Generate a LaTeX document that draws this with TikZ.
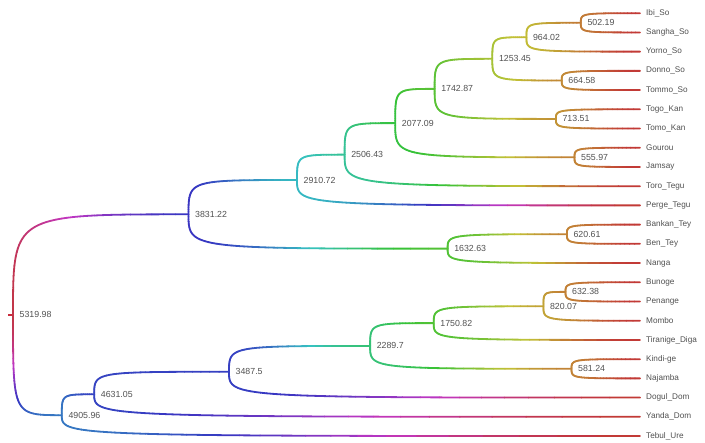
\documentclass[tikz,border=0pt]{standalone}
\usepackage{fontspec}
\setmainfont{Liberation Sans}
\definecolor{labgray}{RGB}{80,80,80}
\newcommand\dgN{40}
\newcommand\dedge[4]{%
  \pgfpointanchor{#1}{center}\pgfgetlastxy{\dgXp}{\dgYp}%
  \pgfpointanchor{#2}{center}\pgfgetlastxy{\dgXc}{\dgYc}%
  \pgfmathsetmacro\dgDx{\dgXc-\dgXp}%
  \pgfmathsetmacro\dgDy{\dgYc-\dgYp}%
  \pgfmathsetmacro\dgA{(\dgDx/100)^2}%
  \pgfmathsetmacro\dgB{(\dgDy/100)^2}%
  \pgfmathsetmacro\dgH{#4-#3}%
  \pgfmathsetmacro\dgH{\dgH>180 ? \dgH-360 : (\dgH<-180 ? \dgH+360 : \dgH)}%
  \foreach \dgk in {1,...,\dgN}{%
    \pgfmathsetmacro\dgTa{(\dgk-1)/\dgN}%
    \pgfmathsetmacro\dgTb{\dgk/\dgN}%
    \pgfmathsetmacro\dgTm{(\dgk-0.5)/\dgN}%
    \pgfmathsetmacro\dgUa{1-\dgTa}%
    \pgfmathsetmacro\dgUb{1-\dgTb}%
    \pgfmathsetmacro\dgUm{1-\dgTm}%
    \pgfmathsetmacro\dgXa{\dgXp+\dgDx*\dgTa*\dgTa*\dgTa}%
    \pgfmathsetmacro\dgYa{\dgYp+\dgDy*(1-\dgUa*\dgUa*\dgUa)}%
    \pgfmathsetmacro\dgXb{\dgXp+\dgDx*\dgTb*\dgTb*\dgTb}%
    \pgfmathsetmacro\dgYb{\dgYp+\dgDy*(1-\dgUb*\dgUb*\dgUb)}%
    \pgfmathsetmacro\dgS{(\dgA*\dgTm*\dgTm*\dgTm+\dgB*(1-\dgUm*\dgUm*\dgUm))/(\dgA+\dgB)}%
    \pgfmathsetmacro\dgS{\dgS*\dgS*(3-2*\dgS)}%
    \pgfmathsetmacro\dgHue{mod(#3+\dgS*\dgH+720,360)}%
    \pgfmathsetmacro\dgHue{(\dgHue>358.5 || \dgHue<1.5) ? 1.5 : \dgHue}%
    \definecolor{segc}{Hsb}{\dgHue,0.72,0.76}%
    \draw[edgeline,segc] (\dgXa pt,\dgYa pt) -- (\dgXb pt,\dgYb pt);%
  }%
}
\tikzset{
  edgeline/.style={line width=1.8pt,line cap=round},
  leaflab/.style={anchor=west,inner sep=0pt,xshift=6pt,text=labgray,font=\fontsize{8.2}{9}\selectfont},
  intlab/.style={anchor=west,inner sep=0pt,xshift=6.5pt,text=labgray,font=\fontsize{8.8}{10}\selectfont},
}
\begin{document}
\begin{tikzpicture}[x=1pt,y=-1pt]
\useasboundingbox (0,0) rectangle (705,443);
% leaves
\coordinate (Ibi) at (640,13.2);
\coordinate (Sangha) at (640,32.42);
\coordinate (Yorno) at (640,51.64);
\coordinate (Donno) at (640,70.86);
\coordinate (Tommo) at (640,90.08);
\coordinate (Togo) at (640,109.3);
\coordinate (Tomo) at (640,128.52);
\coordinate (Gourou) at (640,147.74);
\coordinate (Jamsay) at (640,166.96);
\coordinate (Toro) at (640,186.18);
\coordinate (Perge) at (640,205.4);
\coordinate (Bankan) at (640,224.62);
\coordinate (Ben) at (640,243.84);
\coordinate (Nanga) at (640,263.06);
\coordinate (Bunoge) at (640,282.28);
\coordinate (Penange) at (640,301.5);
\coordinate (Mombo) at (640,320.72);
\coordinate (Tiranige) at (640,339.94);
\coordinate (Kindi) at (640,359.16);
\coordinate (Najamba) at (640,378.38);
\coordinate (Dogul) at (640,397.6);
\coordinate (Yanda) at (640,416.82);
\coordinate (Tebul) at (640,436.04);
% internal nodes
\coordinate (n502) at (580.8,22.81);
\coordinate (n964) at (526.4,37.23);
\coordinate (n664) at (561.7,80.47);
\coordinate (n1253) at (492.3,58.85);
\coordinate (n713) at (555.9,118.91);
\coordinate (n1742) at (434.6,88.88);
\coordinate (n555) at (574.5,157.35);
\coordinate (n2077) at (395.2,123.11);
\coordinate (n2506) at (344.6,154.65);
\coordinate (n2910) at (297.0,180.02);
\coordinate (n620) at (566.9,234.23);
\coordinate (n1632) at (447.6,248.65);
\coordinate (n3831) at (188.5,214.33);
\coordinate (n632) at (565.5,291.89);
\coordinate (n820) at (543.4,306.31);
\coordinate (n1750) at (433.7,323.12);
\coordinate (n581) at (571.5,368.77);
\coordinate (n2289) at (370.1,345.95);
\coordinate (n3487) at (229.0,371.77);
\coordinate (n4631) at (94.2,394.30);
\coordinate (n4905) at (61.8,415.17);
\coordinate (root) at (13.0,314.75);
\coordinate (rootstub) at (8.0,314.75);
% edges
\draw[edgeline,line cap=butt,color={rgb,255:red,200;green,45;blue,60}] (rootstub) -- (root);
\dedge{root}{n3831}{352}{242}
\dedge{root}{n4905}{352}{212}
\dedge{n3831}{n2910}{242}{184}
\dedge{n3831}{n1632}{242}{108}
\dedge{n2910}{n2506}{184}{162}
\dedge{n2910}{Perge}{184}{0}
\dedge{n2506}{n2077}{162}{125}
\dedge{n2506}{Toro}{162}{0}
\dedge{n2077}{n1742}{125}{105}
\dedge{n2077}{n555}{125}{33}
\dedge{n1742}{n1253}{105}{72}
\dedge{n1742}{n713}{105}{40}
\dedge{n1253}{n964}{72}{57}
\dedge{n1253}{n664}{72}{36}
\dedge{n964}{n502}{57}{30}
\dedge{n964}{Yorno}{57}{0}
\dedge{n502}{Ibi}{30}{0}
\dedge{n502}{Sangha}{30}{0}
\dedge{n664}{Donno}{36}{0}
\dedge{n664}{Tommo}{36}{0}
\dedge{n713}{Togo}{40}{0}
\dedge{n713}{Tomo}{40}{0}
\dedge{n555}{Gourou}{33}{0}
\dedge{n555}{Jamsay}{33}{0}
\dedge{n1632}{n620}{108}{33}
\dedge{n1632}{Nanga}{108}{0}
\dedge{n620}{Bankan}{33}{0}
\dedge{n620}{Ben}{33}{0}
\dedge{n4905}{n4631}{212}{234}
\dedge{n4905}{Tebul}{212}{0}
\dedge{n4631}{n3487}{234}{236}
\dedge{n4631}{Yanda}{234}{0}
\dedge{n3487}{n2289}{236}{148}
\dedge{n3487}{Dogul}{236}{0}
\dedge{n2289}{n1750}{148}{108}
\dedge{n2289}{n581}{148}{33}
\dedge{n1750}{n820}{108}{47}
\dedge{n1750}{Tiranige}{108}{0}
\dedge{n820}{n632}{47}{32}
\dedge{n820}{Mombo}{47}{0}
\dedge{n632}{Bunoge}{32}{0}
\dedge{n632}{Penange}{32}{0}
\dedge{n581}{Kindi}{33}{0}
\dedge{n581}{Najamba}{33}{0}
% leaf labels
\node[leaflab] (lIbi) at (Ibi) {Ibi\_So};
\node[leaflab] (lSangha) at (Sangha) {Sangha\_So};
\node[leaflab] (lYorno) at (Yorno) {Yorno\_So};
\node[leaflab] (lDonno) at (Donno) {Donno\_So};
\node[leaflab] (lTommo) at (Tommo) {Tommo\_So};
\node[leaflab] (lTogo) at (Togo) {Togo\_Kan};
\node[leaflab] (lTomo) at (Tomo) {Tomo\_Kan};
\node[leaflab] (lGourou) at (Gourou) {Gourou};
\node[leaflab] (lJamsay) at (Jamsay) {Jamsay};
\node[leaflab] (lToro) at (Toro) {Toro\_Tegu};
\node[leaflab] (lPerge) at (Perge) {Perge\_Tegu};
\node[leaflab] (lBankan) at (Bankan) {Bankan\_Tey};
\node[leaflab] (lBen) at (Ben) {Ben\_Tey};
\node[leaflab] (lNanga) at (Nanga) {Nanga};
\node[leaflab] (lBunoge) at (Bunoge) {Bunoge};
\node[leaflab] (lPenange) at (Penange) {Penange};
\node[leaflab] (lMombo) at (Mombo) {Mombo};
\node[leaflab] (lTiranige) at (Tiranige) {Tiranige\_Diga};
\node[leaflab] (lKindi) at (Kindi) {Kindi-ge};
\node[leaflab] (lNajamba) at (Najamba) {Najamba};
\node[leaflab] (lDogul) at (Dogul) {Dogul\_Dom};
\node[leaflab] (lYanda) at (Yanda) {Yanda\_Dom};
\node[leaflab] (lTebul) at (Tebul) {Tebul\_Ure};
% internal labels
\node[intlab] (l502) at (n502) {502.19};
\node[intlab] (l964) at (n964) {964.02};
\node[intlab] (l664) at (n664) {664.58};
\node[intlab] (l1253) at (n1253) {1253.45};
\node[intlab] (l713) at (n713) {713.51};
\node[intlab] (l1742) at (n1742) {1742.87};
\node[intlab] (l555) at (n555) {555.97};
\node[intlab] (l2077) at (n2077) {2077.09};
\node[intlab] (l2506) at (n2506) {2506.43};
\node[intlab] (l2910) at (n2910) {2910.72};
\node[intlab] (l620) at (n620) {620.61};
\node[intlab] (l1632) at (n1632) {1632.63};
\node[intlab] (l3831) at (n3831) {3831.22};
\node[intlab] (l632) at (n632) {632.38};
\node[intlab] (l820) at (n820) {820.07};
\node[intlab] (l1750) at (n1750) {1750.82};
\node[intlab] (l581) at (n581) {581.24};
\node[intlab] (l2289) at (n2289) {2289.7};
\node[intlab] (l3487) at (n3487) {3487.5};
\node[intlab] (l4631) at (n4631) {4631.05};
\node[intlab] (l4905) at (n4905) {4905.96};
\node[intlab] (lroot) at (root) {5319.98};
\end{tikzpicture}
\end{document}
